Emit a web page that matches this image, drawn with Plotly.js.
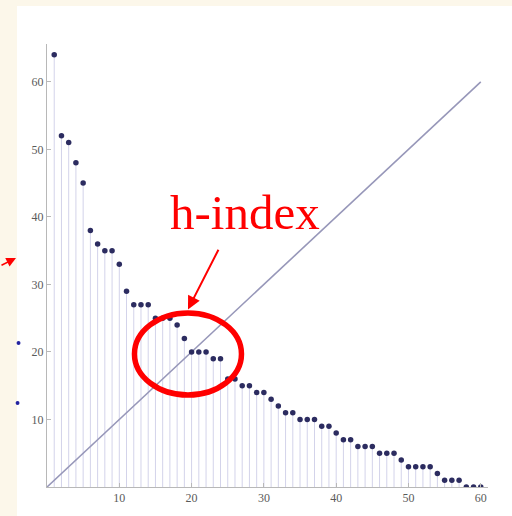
<!DOCTYPE html>
<html>
<head>
<meta charset="utf-8">
<script src="https://cdn.plot.ly/plotly-3.0.1.min.js"></script>
<style>html,body{margin:0;padding:0;background:#fff;}#chart{width:512px;height:516px;}</style>
</head>
<body>
<div id="chart"></div>
<script>
// Citations of each paper, ranked (paper rank 1..60)
const paperRank = [1,2,3,4,5,6,7,8,9,10,11,12,13,14,15,16,17,18,19,20,21,22,23,24,25,26,27,28,29,30,
                   31,32,33,34,35,36,37,38,39,40,41,42,43,44,45,46,47,48,49,50,51,52,53,54,55,56,57,58,59,60];
const citations = [64,52,51,48,45,38,36,35,35,33,
                   29,27,27,27,25,25,25,24,22,20,
                   20,20,19,19,16,16,15,15,14,14,
                   13,12,11,11,10,10,10,9,9,8,
                   7,7,6,6,6,5,5,5,4,3,
                   3,3,3,2,1,1,1,0,0,0];
const diagX = [0, 60];
const diagY = [0, 60];
const tickVals = [10,20,30,40,50,60];
const annotationText = "h-index";

// stems
const stemX = [], stemY = [];
paperRank.forEach((r, i) => { stemX.push(r, r, null); stemY.push(0, citations[i], null); });

const traces = [
  {x: stemX, y: stemY, mode: 'lines', line: {color: '#d3d3ea', width: 1}, hoverinfo: 'skip', showlegend: false},
  {x: diagX, y: diagY, mode: 'lines', line: {color: '#9797b9', width: 1.6}, showlegend: false},
  {x: paperRank, y: citations, mode: 'markers', marker: {color: '#2c2c60', size: 5.5}, showlegend: false}
];

const tickFont = {family: 'Liberation Serif, serif', size: 12, color: '#5a5a5a'};
const layout = {
  width: 512, height: 516,
  margin: {l: 47, r: 24, t: 44, b: 29},
  paper_bgcolor: '#ffffff', plot_bgcolor: '#ffffff',
  showlegend: false,
  xaxis: {range: [0, 61], showgrid: false, zeroline: false, showline: true, linecolor: '#b8b8b8', linewidth: 1,
          ticks: 'inside', ticklen: 4, tickcolor: '#b8b8b8', tickvals: tickVals, tickfont: tickFont},
  yaxis: {range: [0, 65.6], showgrid: false, zeroline: false, showline: true, linecolor: '#b8b8b8', linewidth: 1,
          ticks: 'inside', ticklen: 4, tickcolor: '#b8b8b8', tickvals: tickVals, tickfont: tickFont},
  shapes: [
    {type: 'rect', xref: 'paper', yref: 'paper', x0: -0.2, x1: -0.068, y0: -0.2, y1: 1.2, fillcolor: '#fcf7ea', line: {width: 0}, layer: 'below'},
    {type: 'rect', xref: 'paper', yref: 'paper', x0: -0.2, x1: 1.2, y0: 1.0858, y1: 1.2, fillcolor: '#fcf7ea', line: {width: 0}, layer: 'below'},
    {type: 'circle', xref: 'paper', yref: 'paper', x0: -0.069, x1: -0.0601, y0: 0.3205, y1: 0.3295, fillcolor: '#2323a0', line: {width: 0}},
    {type: 'circle', xref: 'paper', yref: 'paper', x0: -0.0712, x1: -0.0623, y0: 0.1851, y1: 0.1941, fillcolor: '#2323a0', line: {width: 0}},
    {type: 'circle', xref: 'x', yref: 'y', x0: 12.1, x1: 26.9, y0: 13.63, y1: 25.78, line: {color: '#ff0000', width: 5.5}}
  ],
  annotations: [
    {x: 27.37, y: 40.7, xref: 'x', yref: 'y', text: annotationText, showarrow: false,
     font: {family: 'Liberation Serif, serif', size: 49, color: '#ff0000'}, xanchor: 'center', yanchor: 'middle'},
    {x: 19.5, y: 26.3, xref: 'x', yref: 'y', ax: 23.82, ay: 35.36, axref: 'x', ayref: 'y', text: '', showarrow: true,
     arrowcolor: '#ff0000', arrowwidth: 2, arrowhead: 2, arrowsize: 1.3},
    {x: -0.0703, y: 0.5169, xref: 'paper', yref: 'paper', ax: -16, ay: 8, text: '', showarrow: true,
     arrowcolor: '#ff0000', arrowwidth: 1.6, arrowhead: 2, arrowsize: 1.2}
  ]
};
Plotly.newPlot('chart', traces, layout, {displayModeBar: false, staticPlot: true});
</script>
</body>
</html>
